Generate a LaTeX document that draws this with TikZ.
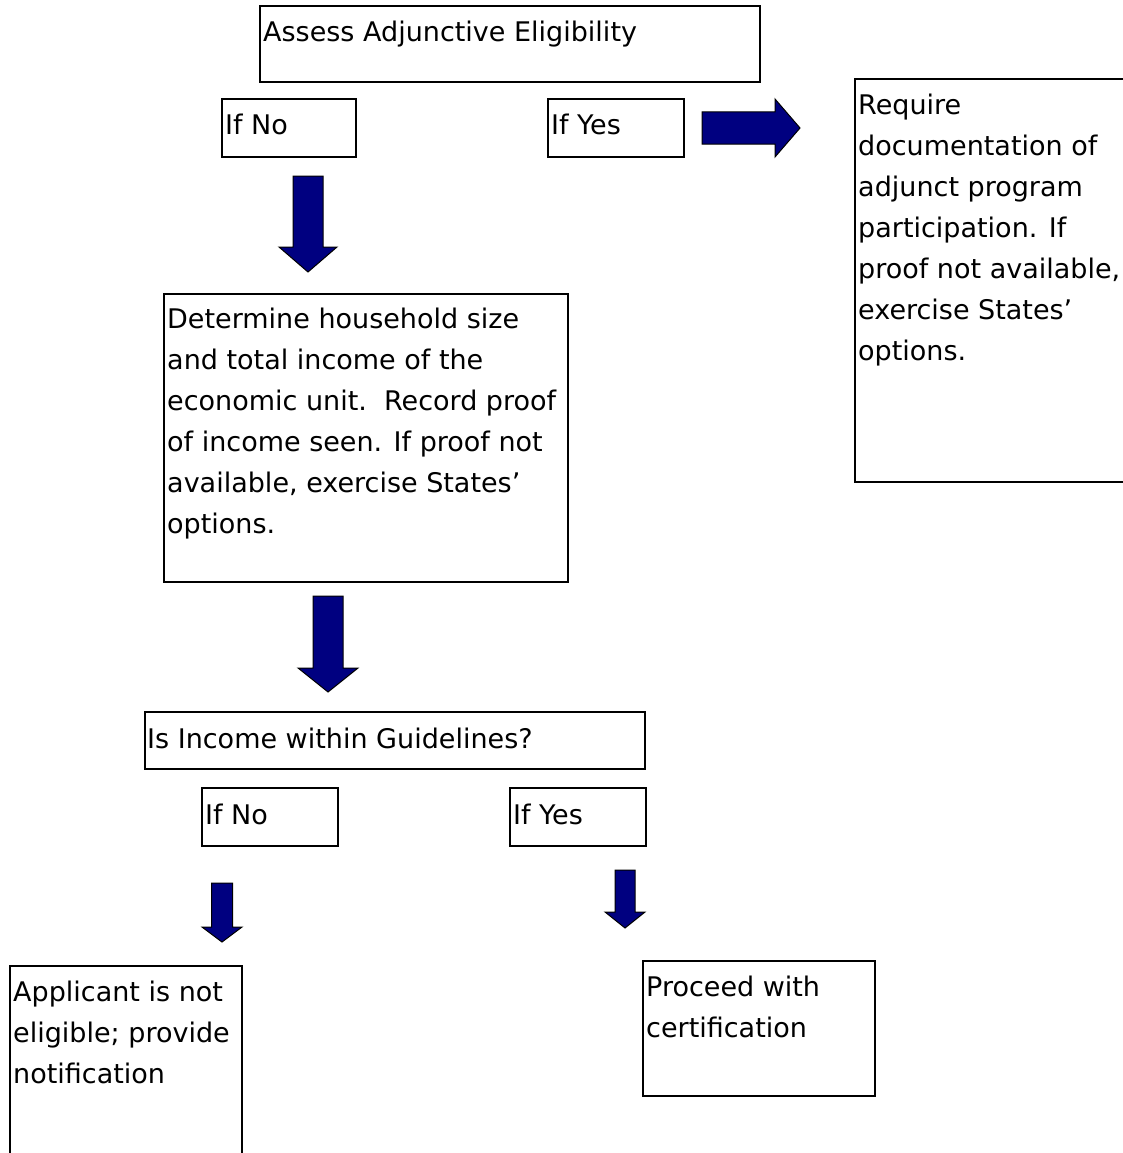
\documentclass[tikz,border=0pt]{standalone}
\usepackage{fontspec}
\setmainfont{DejaVu Sans}
\begin{document}
\begin{tikzpicture}[x=1pt,y=-1pt,
  box/.style={draw=black,line width=1.8pt,fill=white},
  txt/.style={anchor=base west,inner sep=0pt,align=left,font=\fontsize{27}{41}\selectfont},
  blockarrow/.style={draw=black,line width=1pt,fill={rgb,255:red,0;green,0;blue,128},line join=miter}]
\useasboundingbox (0,0) rectangle (1123,1153);
\clip (0,0) rectangle (1123,1153);
\newcommand\blockdown[6]{% xc, top, headstart, tip, bodyhalf, headhalf
  \path[blockarrow] (#1-#5,#2) -- (#1+#5,#2) -- (#1+#5,#3) -- (#1+#6,#3) -- (#1,#4) -- (#1-#6,#3) -- (#1-#5,#3) -- cycle;}
% boxes (text nodes anchored at the baseline of their last line)
\draw[box] (260,6) rectangle (760,82);
\node[txt] (assess) at (263,42) {Assess Adjunctive Eligibility};
\draw[box] (222,99) rectangle (356,157);
\node[txt] (ifno1) at (225,135) {If No};
\draw[box] (548,99) rectangle (684,157);
\node[txt] (ifyes1) at (551,135) {If Yes};
\draw[box] (855,79) rectangle (1140,482);
\node[txt] (require) at (858,360) {Require\\documentation of\\adjunct program\\participation. If\\proof not available,\\exercise States'\\options.};
\draw[box] (164,294) rectangle (568,582);
\node[txt] (determine) at (167,533) {Determine household size\\and total income of the\\economic unit.\ \ Record proof\\of income seen. If proof not\\available, exercise States'\\options.};
\draw[box] (145,712) rectangle (645,769);
\node[txt] (income) at (147,748) {Is Income within Guidelines?};
\draw[box] (202,788) rectangle (338,846);
\node[txt] (ifno2) at (205,824) {If No};
\draw[box] (510,788) rectangle (646,846);
\node[txt] (ifyes2) at (513,824) {If Yes};
\draw[box] (10,966) rectangle (242,1170);
\node[txt] (notelig) at (13,1083) {Applicant is not\\eligible; provide\\notification};
\draw[box] (643,961) rectangle (875,1096);
\node[txt] (proceed) at (646,1037) {Proceed with\\certification};
% block arrows
\path[blockarrow] (702,112) -- (775,112) -- (775,99) -- (800,128) -- (775,157) -- (775,144) -- (702,144) -- cycle;
\blockdown{308}{176}{247}{272}{15}{29}
\blockdown{328}{596}{668}{692}{15}{30}
\blockdown{222}{883}{927}{942}{10.5}{20}
\blockdown{625}{870}{912}{928}{10}{20}
\end{tikzpicture}
\end{document}
